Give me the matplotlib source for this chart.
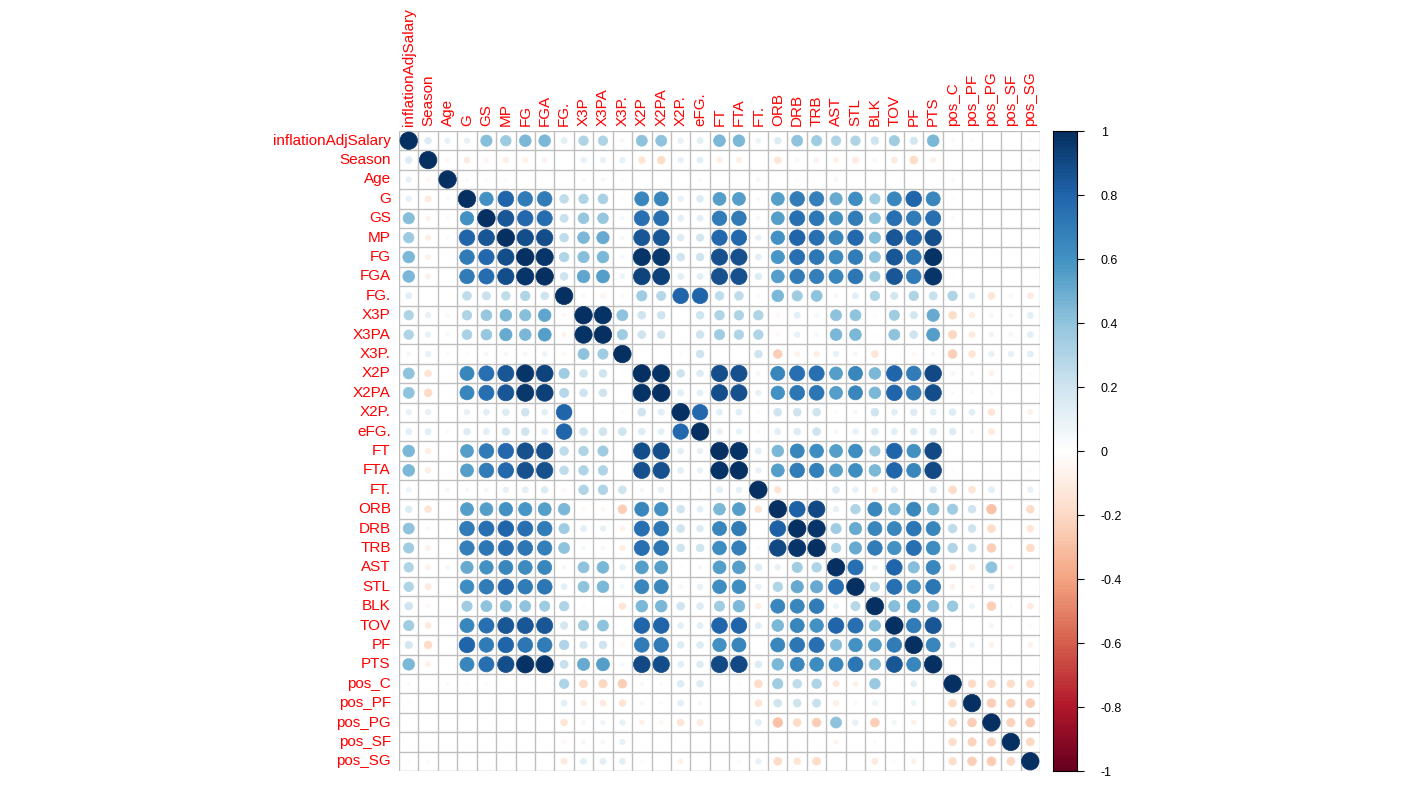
import numpy as np
import matplotlib
matplotlib.use("Agg")
import matplotlib.pyplot as plt
from matplotlib.patches import Circle
from matplotlib.colors import LinearSegmentedColormap

plt.rcParams['font.family'] = ['Liberation Sans', 'DejaVu Sans']

# variable names (row/column order of the matrix)
labels = ["inflationAdjSalary", "Season", "Age", "G", "GS", "MP", "FG", "FGA", "FG.",
          "X3P", "X3PA", "X3P.", "X2P", "X2PA", "X2P.", "eFG.", "FT", "FTA", "FT.",
          "ORB", "DRB", "TRB", "AST", "STL", "BLK", "TOV", "PF", "PTS",
          "pos_C", "pos_PF", "pos_PG", "pos_SF", "pos_SG"]

# lower triangle of the correlation matrix, one row per variable (diagonal excluded)
lower_rows = [
    [],
    [0.15],
    [0.10, -0.05],
    [0.10, -0.12, 0.03],
    [0.42, -0.07, 0.03, 0.60],
    [0.36, -0.10, 0.03, 0.80, 0.85],
    [0.45, -0.08, 0.01, 0.70, 0.78, 0.88],
    [0.45, -0.08, 0.01, 0.70, 0.76, 0.88, 0.97],
    [0.12, 0.00, 0.00, 0.25, 0.22, 0.25, 0.30, 0.20],
    [0.30, 0.10, 0.04, 0.30, 0.38, 0.45, 0.42, 0.52, -0.05],
    [0.30, 0.10, 0.04, 0.32, 0.38, 0.50, 0.45, 0.55, -0.07, 0.98],
    [0.05, 0.10, 0.03, 0.02, 0.04, 0.04, 0.05, 0.08, -0.05, 0.40, 0.35],
    [0.40, -0.15, 0.00, 0.65, 0.75, 0.85, 0.97, 0.92, 0.35, 0.20, 0.20, 0.01],
    [0.40, -0.20, 0.01, 0.65, 0.75, 0.85, 0.96, 0.93, 0.28, 0.20, 0.20, 0.01, 0.98],
    [0.10, 0.10, 0.01, 0.10, 0.12, 0.15, 0.20, 0.12, 0.80, 0.01, 0.01, -0.03, 0.20, 0.13],
    [0.12, 0.12, 0.03, 0.15, 0.12, 0.18, 0.20, 0.12, 0.80, 0.20, 0.20, 0.20, 0.15, 0.12, 0.78],
    [0.45, -0.10, 0.00, 0.55, 0.70, 0.78, 0.87, 0.87, 0.25, 0.30, 0.35, 0.01, 0.88, 0.88, 0.12, 0.10],
    [0.45, -0.10, 0.01, 0.55, 0.70, 0.78, 0.87, 0.87, 0.25, 0.30, 0.30, 0.01, 0.87, 0.87, 0.12, 0.10, 0.98],
    [0.08, 0.01, 0.05, 0.04, 0.05, 0.10, 0.12, 0.15, -0.05, 0.30, 0.30, 0.20, 0.05, 0.10, -0.03, 0.03, 0.12, 0.10],
    [0.15, -0.15, 0.00, 0.55, 0.55, 0.60, 0.58, 0.55, 0.45, -0.05, -0.05, -0.25, 0.65, 0.60, 0.20, 0.12, 0.45, 0.55, -0.15],
    [0.40, -0.05, 0.02, 0.70, 0.75, 0.80, 0.75, 0.70, 0.35, 0.12, 0.10, -0.08, 0.75, 0.72, 0.20, 0.15, 0.65, 0.70, 0.00, 0.82],
    [0.35, -0.08, 0.01, 0.68, 0.72, 0.75, 0.72, 0.68, 0.40, 0.05, 0.05, -0.10, 0.75, 0.72, 0.20, 0.20, 0.62, 0.68, -0.03, 0.90, 0.97],
    [0.30, -0.08, 0.05, 0.50, 0.60, 0.65, 0.63, 0.65, 0.05, 0.40, 0.45, 0.10, 0.55, 0.55, 0.02, 0.05, 0.55, 0.55, 0.15, 0.10, 0.35, 0.30],
    [0.30, -0.12, 0.01, 0.62, 0.70, 0.78, 0.70, 0.72, 0.12, 0.40, 0.45, 0.05, 0.65, 0.65, 0.05, 0.10, 0.62, 0.62, 0.10, 0.30, 0.50, 0.50, 0.75],
    [0.20, -0.05, 0.01, 0.35, 0.40, 0.42, 0.40, 0.35, 0.30, -0.03, -0.02, -0.15, 0.45, 0.45, 0.20, 0.15, 0.35, 0.45, -0.10, 0.65, 0.65, 0.70, 0.08, 0.28],
    [0.35, -0.12, 0.00, 0.65, 0.75, 0.85, 0.85, 0.85, 0.18, 0.35, 0.40, 0.01, 0.80, 0.80, 0.12, 0.12, 0.80, 0.80, 0.12, 0.45, 0.65, 0.60, 0.80, 0.75, 0.42],
    [0.18, -0.20, 0.01, 0.80, 0.70, 0.80, 0.72, 0.70, 0.30, 0.18, 0.20, -0.05, 0.70, 0.70, 0.15, 0.15, 0.60, 0.65, 0.01, 0.65, 0.72, 0.75, 0.42, 0.60, 0.55, 0.70],
    [0.45, -0.08, 0.00, 0.65, 0.75, 0.88, 0.98, 0.97, 0.22, 0.50, 0.55, 0.05, 0.90, 0.88, 0.12, 0.15, 0.90, 0.90, 0.15, 0.45, 0.65, 0.62, 0.65, 0.72, 0.43, 0.85, 0.65],
    [0.03, 0.00, 0.03, 0.02, 0.03, 0.00, 0.00, -0.02, 0.30, -0.20, -0.22, -0.25, 0.05, 0.03, 0.15, 0.15, 0.00, 0.02, -0.20, 0.35, 0.25, 0.30, -0.13, -0.08, 0.37, 0.01, 0.12, 0.01],
    [0.02, 0.00, 0.00, 0.00, 0.00, 0.00, 0.00, 0.00, 0.12, -0.10, -0.12, -0.15, 0.05, 0.03, 0.12, 0.05, 0.00, 0.00, -0.15, 0.20, 0.20, 0.22, -0.10, -0.05, 0.08, 0.01, 0.08, 0.00, -0.20],
    [0.01, 0.01, 0.00, 0.01, 0.00, 0.00, -0.02, 0.00, -0.15, 0.05, 0.07, 0.10, -0.08, -0.05, -0.15, -0.12, 0.00, -0.02, 0.12, -0.30, -0.20, -0.25, 0.40, 0.10, -0.25, 0.06, -0.08, 0.01, -0.20, -0.25],
    [0.00, 0.00, 0.00, 0.00, 0.00, 0.00, 0.00, 0.00, -0.05, 0.05, 0.05, 0.10, 0.00, 0.00, 0.00, -0.01, 0.00, 0.00, 0.00, -0.01, 0.00, -0.01, -0.06, 0.01, -0.04, 0.01, -0.01, 0.01, -0.19, -0.23, -0.23],
    [-0.03, 0.03, 0.01, 0.01, 0.01, 0.00, 0.00, 0.01, -0.12, 0.12, 0.12, 0.12, -0.03, -0.01, -0.08, 0.01, -0.01, -0.03, 0.10, -0.20, -0.15, -0.20, 0.01, 0.01, -0.12, -0.04, -0.08, 0.01, -0.19, -0.25, -0.26, -0.21],
]

cbar_ticks = [1, 0.8, 0.6, 0.4, 0.2, 0, -0.2, -0.4, -0.6, -0.8, -1]

n = len(labels)
corr = np.eye(n)
for i, row in enumerate(lower_rows):
    for j, v in enumerate(row):
        corr[i, j] = v
        corr[j, i] = v

# corrplot's default RdBu palette
cmap = LinearSegmentedColormap.from_list(
    "corrRdBu", ["#67001F", "#B2182B", "#D6604D", "#F4A582", "#FDDBC7", "#FFFFFF",
                 "#D1E5F0", "#92C5DE", "#4393C3", "#2166AC", "#053061"], N=200)

W, H = 1409, 786
fig = plt.figure(figsize=(W / 100, H / 100), dpi=100)
fig.patch.set_facecolor("white")

x0, x1, y0, y1 = 399, 1040, 131, 771
ax = fig.add_axes([x0 / W, 1 - y1 / H, (x1 - x0) / W, (y1 - y0) / H])
ax.set_xlim(0, n)
ax.set_ylim(n, 0)
ax.axis("off")

for k in range(n + 1):
    ax.plot([k, k], [0, n], color="#BEBEBE", lw=1, zorder=1, solid_capstyle="butt")
    ax.plot([0, n], [k, k], color="#BEBEBE", lw=1, zorder=1, solid_capstyle="butt")

for i in range(n):
    for j in range(n):
        v = corr[i, j]
        c = cmap((v + 1) / 2)
        r = 0.45 * np.sqrt(abs(v))
        ax.add_patch(Circle((j + 0.5, i + 0.5), r, facecolor=c, edgecolor=c, lw=0.5, zorder=2))

for i, name in enumerate(labels):
    ax.text(-0.42, i + 0.5, name, ha="right", va="center", color="red", fontsize=11)
    ax.text(i + 0.5, -0.25, name, ha="center", va="bottom", rotation=90, color="red",
            fontsize=11)

# colour legend
cax = fig.add_axes([1053 / W, 1 - y1 / H, 24 / W, (y1 - y0) / H])
grad = np.linspace(-1, 1, 200).reshape(-1, 1)
cax.imshow(grad, aspect="auto", cmap=cmap, origin="lower", extent=[0, 1, -1, 1])
cax.set_xticks([])
cax.yaxis.tick_right()
cax.set_yticks(cbar_ticks)
cax.set_yticklabels([("%g" % t) for t in cbar_ticks], fontsize=9)
cax.tick_params(axis="y", length=5, width=0.8, pad=12)
for s in cax.spines.values():
    s.set_linewidth(0.8)

fig.savefig("out.png", dpi=100)
